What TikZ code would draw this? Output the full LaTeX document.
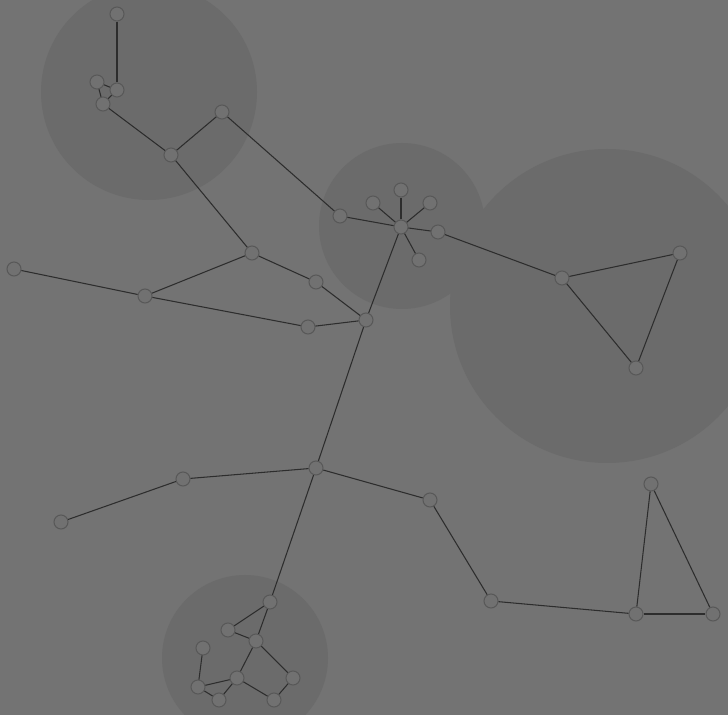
\documentclass[tikz,border=0pt]{standalone}
\usepackage{xcolor}
\definecolor{canvas}{RGB}{115,115,115}
\definecolor{zone}{RGB}{107,107,107}
\definecolor{vertexfill}{RGB}{113,113,113}
\definecolor{vertexline}{RGB}{88,88,88}
\definecolor{link}{RGB}{45,45,45}
\usepackage{tikz}
\usetikzlibrary{positioning}

\tikzset{
  vertex/.style={circle, draw=vertexline, fill=vertexfill, line width=0.6pt,
    minimum size=0.28cm, inner sep=0pt},
  link/.style={draw=link, line width=0.6pt}
}

\begin{document}
\begin{tikzpicture}[x=0.02cm, y=-0.02cm]
  % canvas
  \useasboundingbox (0,0) rectangle (728,715);
  \fill[canvas] (0,0) rectangle (728,715);
  \begin{scope}
    \clip (0,0) rectangle (728,715);
    % shaded zones
    \fill[zone] (149,92) circle (108);
    \fill[zone] (402,226) circle (83);
    \fill[zone] (607,306) circle (157);
    \fill[zone] (245,658) circle (83);
  \end{scope}
  % top-left group
  \node[vertex] (a1) at (117,14) {};
  \node[vertex] (a2) at (117,90) {};
  \node[vertex] (a3) at (97,82) {};
  \node[vertex] (a4) at (103,104) {};
  \node[vertex] (b) at (171,155) {};
  \node[vertex] (c) at (222,112) {};
  \node[vertex] (d) at (340,216) {};
  \node[vertex] (e) at (252,253) {};
  \node[vertex] (f) at (145,296) {};
  \node[vertex] (g) at (14,269) {};
  \node[vertex] (h) at (316,282) {};
  \node[vertex] (i) at (366,320) {};
  \node[vertex] (j) at (308,327) {};
  % hub
  \node[vertex] (k) at (401,227) {};
  \node[vertex] (k1) at (401,190) {};
  \node[vertex] (k2) at (373,203) {};
  \node[vertex] (k3) at (430,203) {};
  \node[vertex] (k4) at (419,260) {};
  \node[vertex] (k5) at (438,232) {};
  % right triangle
  \node[vertex] (l) at (562,278) {};
  \node[vertex] (m) at (680,253) {};
  \node[vertex] (n) at (636,368) {};
  % lower part
  \node[vertex] (o) at (316,468) {};
  \node[vertex] (p) at (183,479) {};
  \node[vertex] (q) at (61,522) {};
  \node[vertex] (r) at (430,500) {};
  \node[vertex] (s) at (491,601) {};
  \node[vertex] (t) at (636,614) {};
  \node[vertex] (u) at (651,484) {};
  \node[vertex] (v) at (713,614) {};
  % bottom group
  \node[vertex] (w) at (270,602) {};
  \node[vertex] (x) at (228,630) {};
  \node[vertex] (y) at (256,641) {};
  \node[vertex] (z) at (203,648) {};
  \node[vertex] (aa) at (198,687) {};
  \node[vertex] (ab) at (237,678) {};
  \node[vertex] (ac) at (219,700) {};
  \node[vertex] (ad) at (293,678) {};
  \node[vertex] (ae) at (274,700) {};
  % links
  \foreach \s/\t in {a1/a2, a2/a3, a3/a4, a4/a2, a4/b, b/c, c/d, b/e, e/f, f/g,
      e/h, h/i, f/j, j/i, i/k, k/d, k/k1, k/k2, k/k3, k/k4, k/k5, k5/l,
      l/m, m/n, n/l, i/o, o/p, p/q, o/r, r/s, s/t, t/u, u/v, t/v,
      o/w, w/x, w/y, x/y, y/ab, y/ad, ad/ae, ae/ab, ab/aa, ab/ac, ac/aa, aa/z}
    \draw[link] (\s) -- (\t);
\end{tikzpicture}
\end{document}
